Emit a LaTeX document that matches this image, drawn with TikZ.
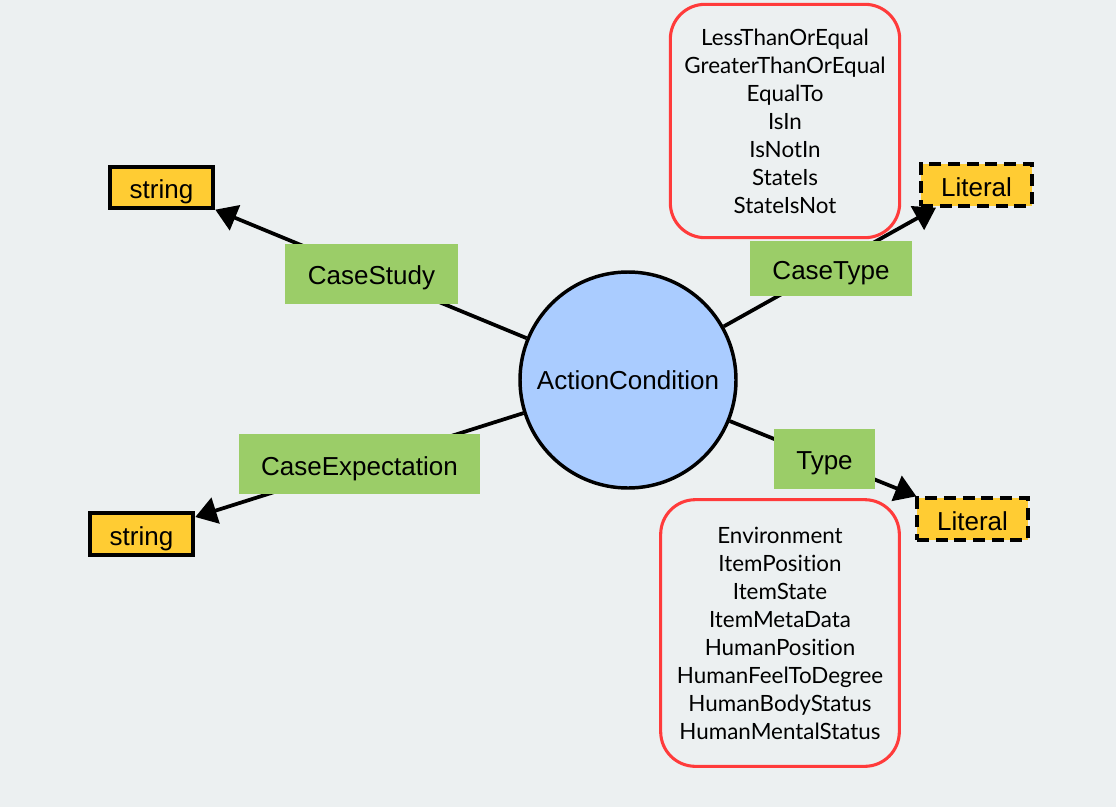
\documentclass[tikz,border=0pt]{standalone}
\usepackage{fontspec}
\setmainfont{Liberation Sans}
\newfontfamily\listfont[Ligatures={NoCommon,NoDiscretionary}]{Lato}
\usepackage{tikz}
\usetikzlibrary{arrows.meta}
\definecolor{bgcol}{RGB}{236,240,241}
\definecolor{classblue}{RGB}{170,204,255}
\definecolor{propgreen}{RGB}{155,205,104}
\definecolor{typeyellow}{RGB}{255,204,51}
\definecolor{listred}{RGB}{255,59,59}

\begin{document}
\begin{tikzpicture}[x=0.75pt,y=-0.75pt,
	cls/.style={circle,draw=black,line width=2.6pt,fill=classblue,minimum size=162pt,inner sep=0pt,font=\fontsize{19.5}{22}\selectfont},
	prop/.style={fill=propgreen,inner xsep=17pt,minimum height=45pt,text height=17pt,text depth=0pt,font=\fontsize{19.5}{22}\selectfont},
	strbox/.style={draw=black,line width=3pt,fill=typeyellow,inner xsep=15pt,minimum height=31pt,text height=17pt,text depth=0pt,font=\fontsize{19.5}{22}\selectfont},
	litbox/.style={strbox,dash pattern=on 9pt off 5pt},
	valbox/.style={draw=listred,line width=2.3pt,fill=bgcol,rounded corners=26pt,align=center,font=\listfont\fontsize{16.8}{21}\selectfont},
	link/.style={line width=2.8pt,-{Triangle[length=16pt,width=20pt]}}]
		\fill[bgcol] (0,0) rectangle (1116,807);
		\useasboundingbox (0,0) rectangle (1116,807);
		\node[cls] (ac) at (628,380) {ActionCondition};
		\node[strbox] (str1) at (161.5,187.5) {string};
		\node[strbox] (str2) at (141.5,534) {string};
		\node[litbox] (lit1) at (976.5,185) {Literal};
		\node[litbox] (lit2) at (972.5,519) {Literal};
		\draw[link] (ac) -- (str1);
		\draw[link] (ac) -- (str2);
		\draw[link] (ac) -- (lit1);
		\draw[link] (ac) -- (lit2);
		\node[prop] (csty) at (371.5,273.5) {CaseStudy};
		\node[prop] (cexp) at (359.5,464) {CaseExpectation};
		\node[prop,minimum height=41pt] (ctyp) at (831,268.5) {CaseType};
		\node[prop] (typ) at (824.5,458.5) {Type};
		\node[valbox,minimum width=172pt,minimum height=175pt] (ops) at (785,121) {LessThanOrEqual\\GreaterThanOrEqual\\EqualTo\\IsIn\\IsNotIn\\StateIs\\StateIsNot};
		\node[valbox,minimum width=179pt,minimum height=200pt] (kinds) at (780,633) {Environment\\ItemPosition\\ItemState\\ItemMetaData\\HumanPosition\\HumanFeelToDegree\\HumanBodyStatus\\HumanMentalStatus};
	\end{tikzpicture}
\end{document}
